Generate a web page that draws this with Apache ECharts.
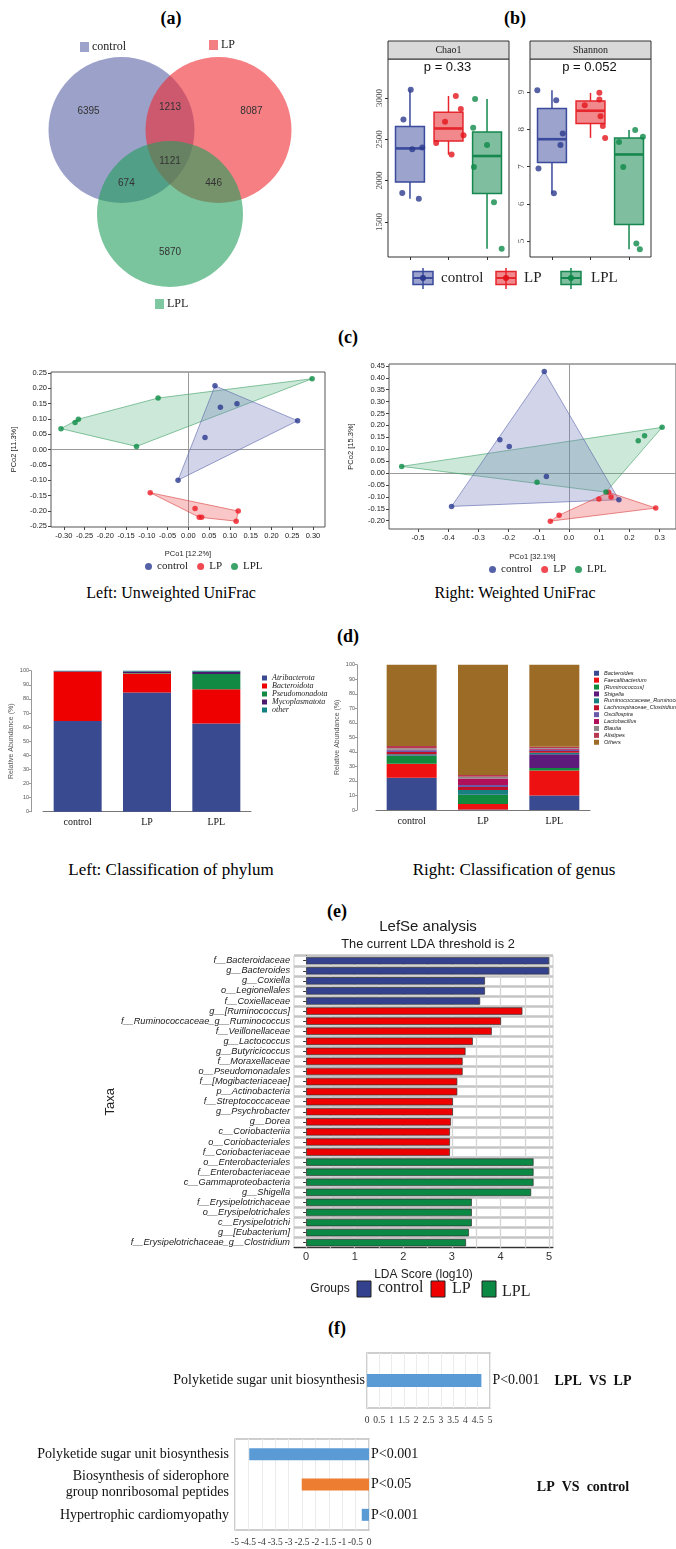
<!DOCTYPE html>
<html><head><meta charset="utf-8"><title>Figure</title>
<script src="https://cdn.jsdelivr.net/npm/echarts@6.0.0/dist/echarts.min.js"></script>
<style>
html,body{margin:0;padding:0;background:#fff;}
#page{position:relative;width:676px;height:1549px;overflow:hidden;background:#fff;}
.layer{position:absolute;left:0;top:0;width:676px;height:1549px;}
.t{position:absolute;transform:translate(-50%,-50%);white-space:nowrap;font-family:"Liberation Serif","Times New Roman",serif;color:#000;}
.p{font-weight:bold;font-size:18px;}
.cap{font-size:16px;}
.cap2{font-size:17px;}
</style></head><body>
<div id="page">
<div class="t p" style="left:171px;top:18px">(a)</div>
<div class="t p" style="left:515px;top:18px">(b)</div>
<div class="t p" style="left:348px;top:337px">(c)</div>
<div class="t cap" style="left:171px;top:593px">Left: Unweighted UniFrac</div>
<div class="t cap" style="left:515px;top:593px">Right: Weighted UniFrac</div>
<div class="t p" style="left:348px;top:636px">(d)</div>
<div class="t cap2" style="left:171px;top:870px">Left: Classification of phylum</div>
<div class="t cap2" style="left:514px;top:870px">Right: Classification of genus</div>
<div class="t p" style="left:337px;top:911px">(e)</div>
<div class="t p" style="left:337px;top:1328px">(f)</div>
</div>
<script>
// ---------------- DATA ----------------
const groups = ['control', 'LP', 'LPL'];

// (a) Venn counts
const vennOnly = [6395, 8087, 5870];           // control only, LP only, LPL only
const vennPairs = [1213, 674, 446];            // control∩LP, control∩LPL, LP∩LPL
const vennAll = 1121;

// (b) alpha diversity (6 samples per group) and jitter
const chao1Control = [3100, 2740, 2380, 2400, 1850, 1780];
const chao1LP = [3025, 2712, 2866, 2551, 2457, 2316];
const chao1LPL = [2988, 2640, 2430, 2166, 1738, 1176];
const shannonControl = [9.05, 8.78, 7.89, 7.58, 6.95, 6.28];
const shannonLP = [8.98, 8.80, 8.65, 8.35, 8.09, 7.77];
const shannonLPL = [7.98, 7.80, 7.66, 6.99, 4.93, 4.78];
const chao1Jitter = [[0.02, -0.17, 0.06, 0.32, -0.20, 0.23], [0.19, -0.09, 0.32, 0.39, -0.32, 0.08], [-0.31, -0.36, 0.00, -0.34, 0.18, 0.38]];
const shannonJitter = [[-0.38, 0.11, 0.28, 0.22, -0.35, 0.05], [0.23, 0.23, -0.15, 0.26, 0.32, 0.38], [0.16, 0.36, -0.26, -0.15, 0.19, 0.28]];
const chao1Ticks = [1500, 2000, 2500, 3000];
const shannonTicks = [5, 6, 7, 8, 9];
const pValues = ['p = 0.33', 'p = 0.052'];

// (c) PCoA coordinates
const pcoaLControl = [[0.064, 0.208], [0.077, 0.138], [0.117, 0.149], [0.263, 0.094], [0.040, 0.039], [-0.025, -0.100]];
const pcoaLLP = [[-0.092, -0.141], [0.016, -0.193], [0.026, -0.221], [0.032, -0.221], [0.120, -0.201], [0.115, -0.234]];
const pcoaLLPL = [[0.298, 0.231], [-0.073, 0.168], [-0.265, 0.099], [-0.273, 0.088], [-0.307, 0.068], [-0.125, 0.010]];
const pcoaRControl = [[-0.082, 0.426], [-0.229, 0.140], [-0.198, 0.112], [-0.075, -0.014], [-0.389, -0.140], [0.165, -0.112]];
const pcoaRLP = [[0.131, -0.081], [0.139, -0.101], [0.099, -0.109], [0.287, -0.147], [-0.033, -0.177], [-0.062, -0.202]];
const pcoaRLPL = [[0.308, 0.192], [0.250, 0.157], [0.229, 0.136], [-0.554, 0.028], [-0.106, -0.039], [0.122, -0.080]];
const pcoaLXTicks = [-0.30, -0.25, -0.20, -0.15, -0.10, -0.05, 0.00, 0.05, 0.10, 0.15, 0.20, 0.25, 0.30];
const pcoaLYTicks = [-0.25, -0.20, -0.15, -0.10, -0.05, 0.00, 0.05, 0.10, 0.15, 0.20, 0.25];
const pcoaRXTicks = [-0.5, -0.4, -0.3, -0.2, -0.1, 0.0, 0.1, 0.2, 0.3];
const pcoaRYTicks = [-0.20, -0.15, -0.10, -0.05, 0.00, 0.05, 0.10, 0.15, 0.20, 0.25, 0.30, 0.35, 0.40, 0.45];

// (d) relative abundance (%)
const phylumNames = ['Atribacterota', 'Bacteroidota', 'Pseudomonadota', 'Mycoplasmatota', 'other'];
const phylumControl = [64.4, 34.9, 0.2, 0.3, 0.2];
const phylumLP = [84.6, 13.5, 0.3, 1.0, 0.6];
const phylumLPL = [62.6, 24.2, 10.8, 1.7, 0.7];
const genusNames = ['Bacteroides', 'Faecalibacterium', '[Ruminococcus]', 'Shigella', 'Ruminococcaceae_Ruminococcus', 'Lachnospiraceae_Clostridium', 'Oscillospira', 'Lactobacillus', 'Blautia', 'Alistipes', 'Others'];
const genusControl = [22.2, 9.7, 5.3, 0.3, 0.9, 1.6, 1.1, 0.3, 1.1, 1.6, 55.9];
const genusLP = [0.3, 3.8, 6.2, 0.2, 3.3, 2.0, 1.4, 4.4, 1.3, 1.2, 75.9];
const genusLPL = [9.9, 17.2, 1.8, 9.4, 1.1, 1.2, 0.9, 0.7, 0.5, 0.9, 56.4];

// (e) LEfSe
const lefseTaxa = ['f__Bacteroidaceae', 'g__Bacteroides', 'g__Coxiella', 'o__Legionellales', 'f__Coxiellaceae', 'g__[Ruminococcus]', 'f__Ruminococcaceae_g__Ruminococcus', 'f__Veillonellaceae', 'g__Lactococcus', 'g__Butyricicoccus', 'f__Moraxellaceae', 'o__Pseudomonadales', 'f__[Mogibacteriaceae]', 'p__Actinobacteria', 'f__Streptococcaceae', 'g__Psychrobacter', 'g__Dorea', 'c__Coriobacteriia', 'o__Coriobacteriales', 'f__Coriobacteriaceae', 'o__Enterobacteriales', 'f__Enterobacteriaceae', 'c__Gammaproteobacteria', 'g__Shigella', 'f__Erysipelotrichaceae', 'o__Erysipelotrichales', 'c__Erysipelotrichi', 'g__[Eubacterium]', 'f__Erysipelotrichaceae_g__Clostridium'];
const lefseLDA = [5.00, 5.00, 3.68, 3.68, 3.58, 4.45, 4.01, 3.82, 3.43, 3.28, 3.22, 3.22, 3.11, 3.11, 3.02, 3.02, 2.98, 2.96, 2.96, 2.96, 4.68, 4.68, 4.68, 4.63, 3.41, 3.41, 3.41, 3.35, 3.29];
const lefseGroup = ['control', 'control', 'control', 'control', 'control', 'LP', 'LP', 'LP', 'LP', 'LP', 'LP', 'LP', 'LP', 'LP', 'LP', 'LP', 'LP', 'LP', 'LP', 'LP', 'LPL', 'LPL', 'LPL', 'LPL', 'LPL', 'LPL', 'LPL', 'LPL', 'LPL'];
const ldaTicks = [0, 1, 2, 3, 4, 5];
const ldaGrid = [0, 0.5, 1, 1.5, 2, 2.5, 3, 3.5, 4, 4.5, 5];

// (f) pathway differences
const fTopTerms = ['Polyketide sugar unit biosynthesis'];
const fTopValues = [4.65];
const fTopP = ['P<0.001'];
const fBotTerms = ['Polyketide sugar unit biosynthesis', 'Biosynthesis of siderophore\ngroup nonribosomal peptides', 'Hypertrophic cardiomyopathy'];
const fBotValues = [-4.47, -2.51, -0.27];
const fBotP = ['P<0.001', 'P<0.05', 'P<0.001'];
const fBotColorKey = ['blue', 'orange', 'blue'];

// ---------------- STYLE ----------------
const SERIF = '"Liberation Serif", "Times New Roman", serif';
const SANS = '"Liberation Sans", Arial, sans-serif';
const page = document.getElementById('page');
function mk(id) {
  const d = document.createElement('div');
  d.className = 'layer'; d.id = id; page.appendChild(d);
  return echarts.init(d, null, { renderer: 'canvas' });
}
function T(x, y, text, font, o) {
  o = o || {};
  const al = o.align || 'center';
  return { type: 'text', x: x, y: y, rotation: o.rot || 0, silent: true, z: o.z || 20,
    style: { text: String(text), font: font, fill: o.fill || '#000', align: al, textAlign: al, verticalAlign: 'middle', textVerticalAlign: 'middle' } };
}

// ---------------- (a) VENN ----------------
(function () {
  const ch = mk('venn');
  const R = 73, D = 97, O = [170, 158];
  const H = D * Math.sqrt(3) / 2;
  const centers = [[O[0] - D / 2, O[1] - H / 3], [O[0] + D / 2, O[1] - H / 3], [O[0], O[1] + 2 * H / 3]];
  const fills = ['rgba(78,88,160,0.56)', 'rgba(238,42,48,0.6)', 'rgba(34,158,92,0.6)'];
  const keys = ['#9ea3cb', '#f37f82', '#7fc7a0'];
  const els = [];
  centers.forEach((c, i) => els.push({ type: 'circle', silent: true, z: 1 + i, shape: { cx: c[0], cy: c[1], r: R }, style: { fill: fills[i] } }));
  const f = '10px ' + SANS;
  vennOnly.forEach((v, i) => {
    const c = centers[i], k = 1.68;
    els.push(T(O[0] + k * (c[0] - O[0]), O[1] + k * (c[1] - O[1]), v, f, { fill: '#333' }));
  });
  [[0, 1], [0, 2], [1, 2]].forEach((p, i) => {
    const m = [(centers[p[0]][0] + centers[p[1]][0]) / 2, (centers[p[0]][1] + centers[p[1]][1]) / 2], k = 1.8;
    els.push(T(O[0] + k * (m[0] - O[0]), O[1] + k * (m[1] - O[1]), vennPairs[i], f, { fill: '#333' }));
  });
  els.push(T(O[0], O[1] + 3, vennAll, f, { fill: '#333' }));
  const keyPos = [[80, 47], [209, 45], [155, 304]];
  groups.forEach((g, i) => {
    els.push({ type: 'rect', silent: true, z: 5, shape: { x: keyPos[i][0], y: keyPos[i][1] - 5, width: 9, height: 10 }, style: { fill: keys[i] } });
    els.push(T(keyPos[i][0] + 12, keyPos[i][1], g, '12px ' + SERIF, { align: 'left', fill: '#222' }));
  });
  ch.setOption({ graphic: { elements: els } });
})();

// ---------------- (b) BOXPLOTS ----------------
(function () {
  const ch = mk('box');
  const stroke = ['#3a4a9c', '#e5262c', '#16884f'];
  const fill = ['rgba(58,74,156,0.5)', 'rgba(229,38,44,0.55)', 'rgba(22,136,79,0.55)'];
  const pt = ['#2d3b8e', '#e3141c', '#0f8a4a'];
  const metrics = [
    { vals: [chao1Control, chao1LP, chao1LPL], jit: chao1Jitter, ticks: chao1Ticks, min: 1075, max: 3473, name: 'Chao1' },
    { vals: [shannonControl, shannonLP, shannonLPL], jit: shannonJitter, ticks: shannonTicks, min: 4.57, max: 9.89, name: 'Shannon' }
  ];
  const grids = [{ left: 388, top: 59, width: 121, height: 198 }, { left: 530, top: 59, width: 121, height: 198 }];
  function q7(s, p) { const h = (s.length - 1) * p, lo = Math.floor(h), hi = Math.min(lo + 1, s.length - 1); return s[lo] + (h - lo) * (s[hi] - s[lo]); }
  function stats(arr) {
    const s = arr.slice().sort((a, b) => a - b);
    const q1 = q7(s, 0.25), md = q7(s, 0.5), q3 = q7(s, 0.75), iqr = q3 - q1;
    const lo = Math.min.apply(null, s.filter(v => v >= q1 - 1.5 * iqr));
    const hi = Math.max.apply(null, s.filter(v => v <= q3 + 1.5 * iqr));
    return [lo, q1, md, q3, hi];
  }
  const series = [];
  metrics.forEach((m, mi) => {
    m.vals.forEach((arr, g) => {
      const st = stats(arr);
      series.push({
        type: 'custom', name: groups[g], xAxisIndex: mi, yAxisIndex: mi, z: 3,
        data: [[g].concat(st)],
        renderItem: function (params, api) {
          const x = api.value(0), hw = 0.375;
          const lt = api.coord([x - hw, api.value(4)]), rb = api.coord([x + hw, api.value(2)]);
          const pm = api.coord([x, api.value(3)]), plo = api.coord([x, api.value(1)]), phi = api.coord([x, api.value(5)]);
          const ls = { stroke: stroke[g], lineWidth: 1.5 };
          return { type: 'group', children: [
            { type: 'line', shape: { x1: pm[0], y1: phi[1], x2: pm[0], y2: lt[1] }, style: ls },
            { type: 'line', shape: { x1: pm[0], y1: rb[1], x2: pm[0], y2: plo[1] }, style: ls },
            { type: 'rect', shape: { x: lt[0], y: lt[1], width: rb[0] - lt[0], height: rb[1] - lt[1] }, style: { fill: fill[g], stroke: stroke[g], lineWidth: 1.5 } },
            { type: 'line', shape: { x1: lt[0], y1: pm[1], x2: rb[0], y2: pm[1] }, style: { stroke: stroke[g], lineWidth: 2.6 } }
          ] };
        }
      });
      series.push({
        type: 'scatter', name: groups[g] + ' pts', xAxisIndex: mi, yAxisIndex: mi, z: 5, symbolSize: 6,
        itemStyle: { color: pt[g] },
        data: arr.map((v, k) => [g + m.jit[g][k], v])
      });
    });
  });
  const els = [];
  metrics.forEach((m, mi) => {
    const gr = grids[mi];
    els.push({ type: 'rect', silent: true, z: 5, shape: { x: gr.left, y: 41, width: gr.width, height: 18 }, style: { fill: '#d9d9d9', stroke: '#333', lineWidth: 1 } });
    els.push(T(gr.left + gr.width / 2, 50, m.name, '10px ' + SERIF, { fill: '#1a1a1a' }));
    els.push(T(gr.left + gr.width / 2 - 1, 67, pValues[mi], '13px ' + SANS, { fill: '#111' }));
  });
  const legX = [423, 506, 571], legT = [441, 524, 591];
  groups.forEach((g, i) => {
    const cx = legX[i], cy = 278;
    els.push({ type: 'line', silent: true, shape: { x1: cx, y1: cy - 10, x2: cx, y2: cy + 11 }, style: { stroke: stroke[i], lineWidth: 1.5 } });
    els.push({ type: 'rect', silent: true, shape: { x: cx - 10, y: cy - 6.5, width: 20, height: 13 }, style: { fill: fill[i], stroke: stroke[i], lineWidth: 1.5 } });
    els.push({ type: 'line', silent: true, shape: { x1: cx - 10, y1: cy, x2: cx + 10, y2: cy }, style: { stroke: stroke[i], lineWidth: 2 } });
    els.push({ type: 'circle', silent: true, shape: { cx: cx, cy: cy, r: 3 }, style: { fill: pt[i] } });
    els.push(T(legT[i], cy, g, '15px ' + SERIF, { align: 'left', fill: '#222' }));
  });
  ch.setOption({
    animation: false,
    grid: grids.map(g => Object.assign({ show: true, borderColor: '#333', borderWidth: 1, containLabel: false }, g)),
    xAxis: metrics.map((m, mi) => ({
      type: 'value', gridIndex: mi, min: -0.57, max: 2.57,
      axisLine: { show: false, onZero: false },
      axisTick: { show: true, customValues: [0, 1, 2], length: 3, lineStyle: { color: '#333' } },
      axisLabel: { show: false }, splitLine: { show: false }
    })),
    yAxis: metrics.map((m, mi) => ({
      type: 'value', gridIndex: mi, min: m.min, max: m.max,
      axisLine: { show: false, onZero: false },
      axisTick: { show: true, customValues: m.ticks, length: 3, lineStyle: { color: '#333' } },
      axisLabel: { customValues: m.ticks, formatter: v => String(v), rotate: 90, fontSize: 9, fontFamily: SERIF, color: '#4d4d4d', margin: 4 },
      splitLine: { show: false }
    })),
    series: series,
    graphic: { elements: els }
  });
})();

// ---------------- (c) PCoA ----------------
const grpColor = ['#2b3990', '#ee1c25', '#0b8c45'];
const hullFill = ['rgba(115,124,190,0.32)', 'rgba(236,80,80,0.32)', 'rgba(86,178,126,0.3)'];
const hullStroke = ['rgba(90,100,170,0.75)', 'rgba(220,60,60,0.75)', 'rgba(60,160,100,0.75)'];
function hull(pts) {
  const p = pts.slice().sort((a, b) => a[0] - b[0] || a[1] - b[1]);
  const cross = (o, a, b) => (a[0] - o[0]) * (b[1] - o[1]) - (a[1] - o[1]) * (b[0] - o[0]);
  const lo = [], up = [];
  p.forEach(q => { while (lo.length >= 2 && cross(lo[lo.length - 2], lo[lo.length - 1], q) <= 0) lo.pop(); lo.push(q); });
  p.slice().reverse().forEach(q => { while (up.length >= 2 && cross(up[up.length - 2], up[up.length - 1], q) <= 0) up.pop(); up.push(q); });
  return lo.slice(0, -1).concat(up.slice(0, -1));
}
function pcoa(id, cfg) {
  const ch = mk(id);
  const series = [];
  const order = [2, 0, 1];
  order.forEach(g => {
    const h = hull(cfg.sets[g]);
    series.push({ type: 'custom', name: '_hull' + g, z: 2, silent: true, data: [[0, 0]],
      renderItem: function (params, api) {
        return { type: 'polygon', shape: { points: h.map(q => api.coord(q)) }, style: { fill: hullFill[g], stroke: hullStroke[g], lineWidth: 0.8 } };
      } });
  });
  groups.forEach((name, g) => {
    series.push({ type: 'scatter', name: name, z: 4, symbolSize: 5.5, itemStyle: { color: grpColor[g] }, data: cfg.sets[g],
      markLine: g === 0 ? { silent: true, symbol: ['none', 'none'], z: 1, label: { show: false }, lineStyle: { color: '#9a9a9a', width: 1, type: 'solid' }, data: [{ xAxis: 0 }, { yAxis: 0 }] } : undefined });
  });
  const lab = { fontSize: 7.5, color: '#222', fontFamily: SANS };
  ch.setOption({
    animation: false,
    grid: Object.assign({ show: true, borderColor: '#555', borderWidth: 1 }, cfg.grid),
    legend: { data: groups, left: cfg.leg[0], top: cfg.leg[1], icon: 'circle', itemWidth: 7, itemHeight: 7, itemGap: 9, textStyle: { fontFamily: SERIF, fontSize: 11, color: '#222' } },
    xAxis: { type: 'value', min: cfg.xr[0], max: cfg.xr[1], axisLine: { show: false, onZero: false },
      axisTick: { customValues: cfg.xt, length: 3, lineStyle: { color: '#444' } },
      axisLabel: Object.assign({ customValues: cfg.xt, formatter: v => v.toFixed(cfg.xd), margin: 5 }, lab),
      splitLine: { show: false }, name: cfg.xn, nameLocation: 'middle', nameGap: cfg.xg, nameTextStyle: { fontSize: 7.5, color: '#222', fontFamily: SANS } },
    yAxis: { type: 'value', min: cfg.yr[0], max: cfg.yr[1], axisLine: { show: false, onZero: false },
      axisTick: { customValues: cfg.yt, length: 3, lineStyle: { color: '#444' } },
      axisLabel: Object.assign({ customValues: cfg.yt, formatter: v => v.toFixed(2), margin: 4 }, lab),
      splitLine: { show: false }, name: cfg.yn, nameLocation: 'middle', nameGap: cfg.yg, nameTextStyle: { fontSize: 7.5, color: '#222', fontFamily: SANS } },
    series: series
  });
}
pcoa('pcoaL', { sets: [pcoaLControl, pcoaLLP, pcoaLLPL], grid: { left: 51, top: 372, width: 274, height: 155 },
  xr: [-0.331, 0.329], yr: [-0.253, 0.253], xt: pcoaLXTicks, yt: pcoaLYTicks, xd: 2,
  xn: 'PCo1 [12.2%]', yn: 'PCo2 [11.3%]', xg: 23, yg: 33, leg: [140, 556] });
pcoa('pcoaR', { sets: [pcoaRControl, pcoaRLP, pcoaRLPL], grid: { left: 389, top: 364, width: 291, height: 165 },
  xr: [-0.596, 0.354], yr: [-0.235, 0.458], xt: pcoaRXTicks, yt: pcoaRYTicks, xd: 1,
  xn: 'PCo1 [32.1%]', yn: 'PCo2 [15.3%]', xg: 24, yg: 34, leg: [484, 559] });

// ---------------- (d) STACKED BARS ----------------
function stack(id, cfg) {
  const ch = mk(id);
  ch.setOption({
    animation: false,
    grid: cfg.grid,
    legend: { data: cfg.names, orient: 'vertical', left: cfg.leg[0], top: cfg.leg[1], icon: 'rect', itemWidth: 5, itemHeight: 5, itemGap: 0,
      textStyle: { fontFamily: cfg.lf, fontStyle: 'italic', fontSize: cfg.lfs, color: '#222', lineHeight: cfg.lh, padding: 0 } },
    xAxis: { type: 'category', data: groups, axisLine: { lineStyle: { color: '#777' } }, axisTick: { show: false },
      axisLabel: { fontFamily: SERIF, fontSize: 10, color: '#111', margin: 6 } },
    yAxis: { type: 'value', min: 0, max: 100, interval: 10, offset: cfg.off,
      axisLine: { show: true, lineStyle: { color: '#999' } }, axisTick: { show: true, length: 2, lineStyle: { color: '#999' } },
      axisLabel: { fontSize: 5.5, color: '#555', margin: 2, fontFamily: SANS }, splitLine: { show: false },
      name: 'Relative Abundance (%)', nameLocation: 'middle', nameGap: 16, nameTextStyle: { fontSize: 7, color: '#555', fontFamily: SANS } },
    series: cfg.names.map((n, i) => ({ type: 'bar', name: n, stack: 's', barWidth: cfg.bw, itemStyle: { color: cfg.colors[i] },
      data: cfg.data.map(d => d[i]) }))
  });
}
stack('phylum', { names: phylumNames, data: [phylumControl, phylumLP, phylumLPL],
  colors: ['#3a4a91', '#ee0000', '#138a43', '#4b1a6f', '#128080'],
  grid: { left: 43, top: 670.7, width: 208, height: 141 }, off: 12, bw: 48,
  leg: [257, 669], lf: SERIF, lfs: 8, lh: 5.6 });
stack('genus', { names: genusNames, data: [genusControl, genusLP, genusLPL],
  colors: ['#3a4a91', '#ee1111', '#128a3d', '#5e1a7a', '#178080', '#c0102a', '#6a5aa8', '#b0105a', '#888888', '#b83850', '#9c6b25'],
  grid: { left: 376, top: 664.7, width: 214, height: 145.3 }, off: 19, bw: 50,
  leg: [589, 664.8], lf: SANS, lfs: 5.6, lh: 6.9 });

// ---------------- (e) LEfSe ----------------
(function () {
  const ch = mk('lefse');
  const gc = { control: '#33418f', LP: '#ee0000', LPL: '#0b8843' };
  const els = [
    T(428, 927, 'LefSe analysis', '15px ' + SANS, { fill: '#1a1a1a' }),
    T(428, 944, 'The current LDA threshold is 2', '12.8px ' + SANS, { fill: '#1a1a1a' }),
    T(330, 1289, 'Groups', '12px ' + SANS, { fill: '#222' })
  ];
  const sq = [357, 431, 482], tx = [378, 452, 502], ty = [1288, 1289, 1292];
  groups.forEach((g, i) => {
    els.push({ type: 'rect', silent: true, shape: { x: sq[i], y: 1281, width: 14, height: 16 }, style: { fill: gc[g], stroke: '#222', lineWidth: 1 } });
    els.push(T(tx[i], ty[i], g, '16px ' + SERIF, { align: 'left', fill: '#222' }));
  });
  ch.setOption({
    animation: false,
    grid: { left: 294, top: 955.7, width: 259, height: 292, show: true, borderColor: '#cfcfcf', borderWidth: 1 },
    xAxis: { type: 'value', min: -0.25, max: 5.08,
      axisLine: { show: true, onZero: false, lineStyle: { color: '#333' } },
      axisTick: { customValues: ldaTicks, length: 3, lineStyle: { color: '#333' } },
      axisLabel: { customValues: ldaTicks, fontSize: 11, color: '#333', fontFamily: SANS, margin: 4 },
      splitLine: { show: false },
      name: 'LDA Score (log10)', nameLocation: 'middle', nameGap: 21, nameTextStyle: { fontSize: 12, color: '#222', fontFamily: SANS } },
    yAxis: { type: 'category', inverse: true, data: lefseTaxa,
      axisLine: { show: true, lineStyle: { color: '#333' } },
      axisTick: { show: true, alignWithLabel: true, length: 3, lineStyle: { color: '#333' } },
      axisLabel: { interval: 0, fontSize: 9.2, fontStyle: 'italic', color: '#222', fontFamily: SANS, margin: 4 },
      splitLine: { show: true, interval: 0, lineStyle: { color: '#c4c4c4', width: 2.6 } },
      name: 'Taxa', nameLocation: 'middle', nameGap: 158, nameTextStyle: { fontSize: 13, color: '#222', fontFamily: SANS } },
    series: [{
      type: 'bar', barWidth: 7.4, z: 3,
      data: lefseLDA.map((v, i) => ({ value: v, itemStyle: { color: gc[lefseGroup[i]] } })),
      itemStyle: { borderColor: '#333', borderWidth: 0.7 },
      markLine: { silent: true, z: 1, symbol: ['none', 'none'], label: { show: false },
        lineStyle: { color: '#d4d4d4', width: 1.3, type: 'solid' }, data: ldaGrid.map(v => ({ xAxis: v })) }
    }],
    graphic: { elements: els }
  });
})();

// ---------------- (f) PATHWAYS ----------------
(function () {
  const ch = mk('fTop');
  ch.setOption({
    animation: false,
    grid: { left: 367, top: 1353, width: 123, height: 55, show: true, borderColor: '#bfbfbf', borderWidth: 1.5 },
    xAxis: { type: 'value', min: 0, max: 5, interval: 0.5, axisLine: { show: false, onZero: false }, axisTick: { show: false },
      axisLabel: { fontSize: 9.5, fontFamily: SERIF, color: '#333', margin: 7, formatter: v => String(v) },
      splitLine: { show: true, lineStyle: { color: '#ececec' } } },
    yAxis: { type: 'category', data: fTopTerms, axisLine: { show: false }, axisTick: { show: false },
      axisLabel: { fontSize: 14, fontFamily: SERIF, color: '#111', margin: 2 } },
    series: [{ type: 'bar', data: fTopValues, barWidth: 13, itemStyle: { color: '#5b9bd5' },
      label: { show: true, position: 'right', distance: 11, formatter: p => fTopP[p.dataIndex], fontSize: 14, fontFamily: SERIF, color: '#111' } }],
    graphic: { elements: [T(593, 1381, 'LPL  VS  LP', 'bold 14px ' + SERIF, { fill: '#111' })] }
  });
  const ch2 = mk('fBot');
  const cols = { blue: '#5b9bd5', orange: '#ed7d31' };
  ch2.setOption({
    animation: false,
    grid: { left: 235, top: 1439, width: 134, height: 91, show: true, borderColor: '#bfbfbf', borderWidth: 1.5 },
    xAxis: { type: 'value', min: -5, max: 0, interval: 0.5, axisLine: { show: false, onZero: false }, axisTick: { show: false },
      axisLabel: { fontSize: 9.5, fontFamily: SERIF, color: '#333', margin: 7, formatter: v => String(v) },
      splitLine: { show: true, lineStyle: { color: '#ececec' } } },
    yAxis: { type: 'category', inverse: true, data: fBotTerms, axisLine: { show: false }, axisTick: { show: false },
      axisLabel: { fontSize: 14, lineHeight: 16, fontFamily: SERIF, color: '#111', margin: 6 } },
    series: [{ type: 'bar', barWidth: 12,
      data: fBotValues.map((v, i) => ({ value: v, itemStyle: { color: cols[fBotColorKey[i]] } })),
      label: { show: true, position: 'right', distance: 2, formatter: p => fBotP[p.dataIndex], fontSize: 14, fontFamily: SERIF, color: '#111' } }],
    graphic: { elements: [T(583, 1487, 'LP  VS  control', 'bold 14px ' + SERIF, { fill: '#111' })] }
  });
})();
</script>
</body></html>
